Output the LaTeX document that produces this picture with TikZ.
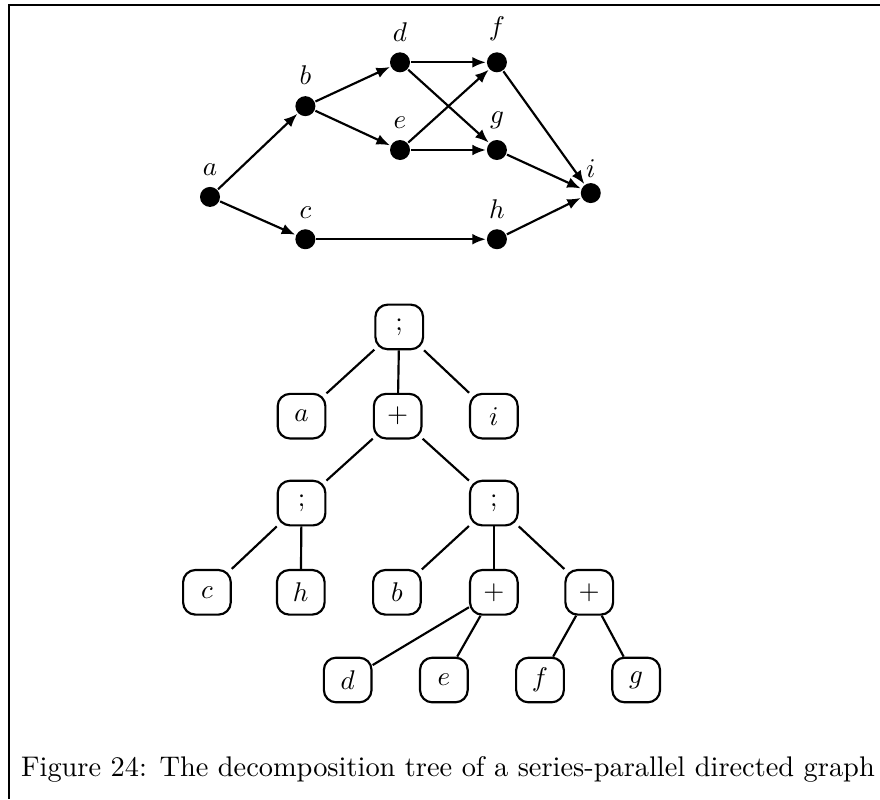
\documentclass[tikz,border=0pt]{standalone}
\usepackage{amssymb}
\usetikzlibrary{arrows.meta}

\begin{document}
\begin{tikzpicture}[thick, >={Latex[length=5pt,width=4pt]},
        vertex/.style={circle, fill, inner sep=0pt, minimum size=0.26cm, label distance=0pt},
        opnode/.style={draw, rounded corners=0.16cm, minimum width=0.62cm, minimum height=0.58cm, inner sep=0pt}]
        \useasboundingbox (0,0) rectangle (11.44,-10.39);
        \draw[line width=0.8pt] (11.44,-0.065) -- (0.12,-0.065) -- (0.12,-10.39);

        % the series-parallel digraph
        \node[vertex, label=above:$a$] (a) at (2.73,-2.56) {};
        \node[vertex, label=above:$b$] (b) at (3.97,-1.38) {};
        \node[vertex, label=above:$c$] (c) at (3.97,-3.11) {};
        \node[vertex, label=above:$d$] (d) at (5.20,-0.81) {};
        \node[vertex, label=above:$e$] (e) at (5.20,-1.95) {};
        \node[vertex, label=above:$f$] (f) at (6.46,-0.81) {};
        \node[vertex, label=above:$g$] (g) at (6.46,-1.95) {};
        \node[vertex, label=above:$h$] (h) at (6.46,-3.11) {};
        \node[vertex, label={[yshift=-2pt]above:$i$}] (i) at (7.68,-2.51) {};
        \foreach \s/\t in {a/b, a/c, b/d, b/e, d/f, d/g, e/f, e/g, c/h, f/i, g/i, h/i}
            \draw[->] (\s) -- (\t);

        % its decomposition tree
        \node[opnode] (root) at (5.19,-4.25) {;};
        \node[opnode] (ta) at (3.92,-5.41) {$a$};
        \node[opnode] (par) at (5.17,-5.41) {$+$};
        \node[opnode] (ti) at (6.42,-5.41) {$i$};
        \node[opnode] (serl) at (3.92,-6.54) {;};
        \node[opnode] (serr) at (6.42,-6.54) {;};
        \node[opnode] (tc) at (2.69,-7.70) {$c$};
        \node[opnode] (th) at (3.91,-7.70) {$h$};
        \node[opnode] (tb) at (5.16,-7.70) {$b$};
        \node[opnode] (parl) at (6.42,-7.70) {$+$};
        \node[opnode] (parr) at (7.66,-7.70) {$+$};
        \node[opnode] (td) at (4.52,-8.84) {$d$};
        \node[opnode] (te) at (5.77,-8.84) {$e$};
        \node[opnode] (tf) at (7.02,-8.84) {$f$};
        \node[opnode] (tg) at (8.27,-8.84) {$g$};
        \foreach \s/\t in {root/ta, root/par, root/ti, par/serl, par/serr, serl/tc, serl/th,
                serr/tb, serr/parl, serr/parr, parl/td, parl/te, parr/tf, parr/tg}
            \draw (\s) -- (\t);

        \node[anchor=base west, inner sep=0pt, font=\fontsize{10.5}{13}\selectfont] (caption) at (0.26,-10.10)
            {Figure 24: The decomposition tree of a series-parallel directed graph};
    \end{tikzpicture}
\end{document}
